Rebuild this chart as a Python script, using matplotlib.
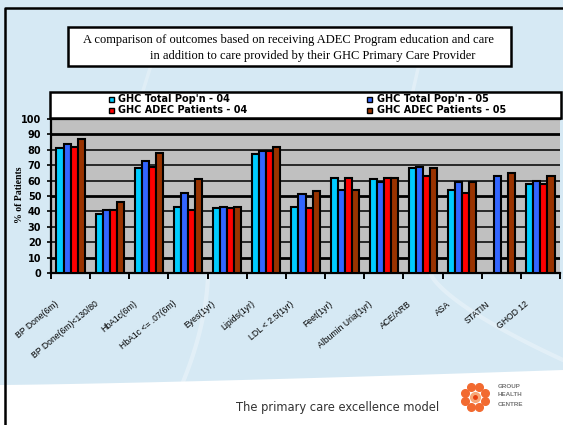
import numpy as np
import matplotlib
matplotlib.use("Agg")
import matplotlib.pyplot as plt
from matplotlib.patches import Rectangle, Polygon
from matplotlib.lines import Line2D

categories = ["BP Done(6m)", "BP Done(6m)<130/80", "HbA1c(6m)", "HbA1c <= .07(6m)",
              "Eyes(1yr)", "Lipids(1yr)", "LDL < 2.5(1yr)", "Feet(1yr)",
              "Albumin Uria(1yr)", "ACE/ARB", "ASA", "STATIN", "GHOD 12"]

series_names = ["GHC Total Pop'n - 04", "GHC Total Pop'n - 05",
                "GHC ADEC Patients - 04", "GHC ADEC Patients - 05"]

total_04 = [81, 38, 68, 43, 42, 77, 43, 62, 61, 68, 54, np.nan, 58]
total_05 = [84, 41, 73, 52, 43, 79, 51, 54, 59, 69, 59, 63, 60]
adec_04 = [82, 41, 69, 41, 42, 79, 42, 62, 62, 63, 52, np.nan, 58]
adec_05 = [87, 46, 78, 61, 43, 82, 53, 54, 62, 68, 59, 65, 63]

y_ticks = [0, 10, 20, 30, 40, 50, 60, 70, 80, 90, 100]

colors = ["#00CCFF", "#3366FF", "#FF0000", "#993300"]

W, H = 563, 425


def fx(px):
    return px / W


def fy(py):
    return 1 - py / H


fig = plt.figure(figsize=(5.63, 4.25), dpi=100)
fig.patch.set_facecolor("#D6E9F4")

# white band at the bottom of the slide
xs = np.linspace(0, 1, 50)
top = fy(385) + (fy(370) - fy(385)) * xs ** 1.3
fig.add_artist(Polygon(np.column_stack([np.r_[xs, 1, 0], np.r_[top, 0, 0]]),
                       closed=True, transform=fig.transFigure,
                       facecolor="white", edgecolor="none", zorder=0))
# faint swooshes
t = np.linspace(0, 1, 60)
fig.add_artist(Line2D(fx(208 - 25 * t ** 1.8), fy(272 + 110 * t), transform=fig.transFigure,
                      color="white", alpha=0.3, lw=3, zorder=0))
fig.add_artist(Line2D(fx(430 + 133 * t), fy(272 + 88 * t ** 0.7), transform=fig.transFigure,
                      color="white", alpha=0.3, lw=3, zorder=0))
fig.add_artist(Line2D(fx(420 - 8 * t), fy(60 + 35 * t), transform=fig.transFigure,
                      color="white", alpha=0.3, lw=2.5, zorder=0))
fig.add_artist(Line2D(fx(152 - 10 * t), fy(62 + 32 * t), transform=fig.transFigure,
                      color="white", alpha=0.25, lw=2.5, zorder=0))

# slide border
fig.add_artist(Line2D([fx(5), fx(5), 1.0], [0.0, fy(8), fy(8)], transform=fig.transFigure,
                      color="black", lw=1.8, zorder=5))

ax = fig.add_axes([fx(51), fy(273), fx(560) - fx(51), fy(119) - fy(273)])
ax.set_facecolor("#C0C0C0")

x = np.arange(len(categories))
w = 0.18
all_series = [total_04, total_05, adec_04, adec_05]
for k, vals in enumerate(all_series):
    ax.bar(x + (k - 1.5) * w, vals, width=w, color=colors[k],
           edgecolor="black", linewidth=1.5, zorder=3)

for v in y_ticks[1:-1]:
    ax.axhline(v, color="black", lw=2.0 if v in (10, 50, 90) else 1.1, zorder=1)

ax.set_xlim(-0.5, len(categories) - 0.5)
ax.set_ylim(0, 100)
ax.set_yticks(y_ticks)
ax.set_yticklabels([str(v) for v in y_ticks], fontsize=7, fontweight="bold",
                   family="DejaVu Sans")
ax.tick_params(axis="y", length=3, width=1.2, pad=4)
ax.set_xticks(np.arange(len(categories) + 1) - 0.5)
ax.set_xticklabels([])
ax.tick_params(axis="x", length=4, width=1.4)
for s in ax.spines.values():
    s.set_linewidth(1.6)
ax.spines["right"].set_visible(False)

for i, lab in enumerate(categories):
    ax.text(i - 0.4, -0.17, lab, transform=ax.get_xaxis_transform(),
            rotation=40, rotation_mode="anchor", ha="right", va="top",
            fontsize=6.2, family="Liberation Sans", color="black")

fig.text(fx(19), fy(195), "% of Patients", rotation=90, ha="center", va="center",
         fontsize=7, fontweight="bold", family="Liberation Serif")

# title box
fig.add_artist(Rectangle((fx(68), fy(66)), fx(511) - fx(68), fy(27) - fy(66),
                         transform=fig.transFigure, facecolor="white",
                         edgecolor="black", lw=1.8, zorder=2))
fig.text(fx(83), fy(40),
         "A comparison of outcomes based on receiving ADEC Program education and care",
         ha="left", va="center", fontsize=9, family="Liberation Serif", zorder=3)
fig.text(fx(150), fy(56),
         "in addition to care provided by their GHC Primary Care Provider",
         ha="left", va="center", fontsize=9, family="Liberation Serif", zorder=3)

# legend box
fig.add_artist(Rectangle((fx(50), fy(118)), fx(561) - fx(50), fy(92) - fy(118),
                         transform=fig.transFigure, facecolor="white",
                         edgecolor="black", lw=1.8, zorder=2))
leg_pos = [(111, 99), (370, 99), (111, 110), (370, 110)]
for k, (lx, ly) in enumerate(leg_pos):
    fig.add_artist(Rectangle((fx(lx - 2.5), fy(ly + 2.5)), 5 / W, 5 / H,
                             transform=fig.transFigure, facecolor=colors[k],
                             edgecolor="black", lw=1.0, zorder=3))
    fig.text(fx(lx + 7), fy(ly), series_names[k], ha="left", va="center",
             fontsize=7, fontweight="bold", family="DejaVu Sans", zorder=3)

# footer
fig.text(fx(236), fy(408), "The primary care excellence model", ha="left",
         va="center", fontsize=8.3, family="DejaVu Sans", color="#333333")

# logo
ang = np.linspace(0, 2 * np.pi, 9)[:-1] + np.pi / 8
lx, ly, r = 475, 397, 11
fig.add_artist(Line2D(fx(lx + r * np.cos(ang)), fy(ly + r * np.sin(ang)),
                      transform=fig.transFigure, ls="none", marker="o", ms=5.5,
                      color="#F26A30", zorder=3))
fig.add_artist(Line2D([fx(lx)], [fy(ly)], transform=fig.transFigure, ls="none", marker="o",
                      ms=7, color="#F8A878", zorder=3))
fig.add_artist(Line2D([fx(lx)], [fy(ly)], transform=fig.transFigure, ls="none", marker="o",
                      ms=2.5, color="#E84010", zorder=4))
for j, word in enumerate(["GROUP", "HEALTH", "CENTRE"]):
    fig.text(fx(498), fy(386 + j * 9), word, ha="left", va="center",
             fontsize=4.5, fontweight="bold", family="Liberation Sans", color="#777777")

fig.savefig("out.png", dpi=100, facecolor=fig.get_facecolor())
